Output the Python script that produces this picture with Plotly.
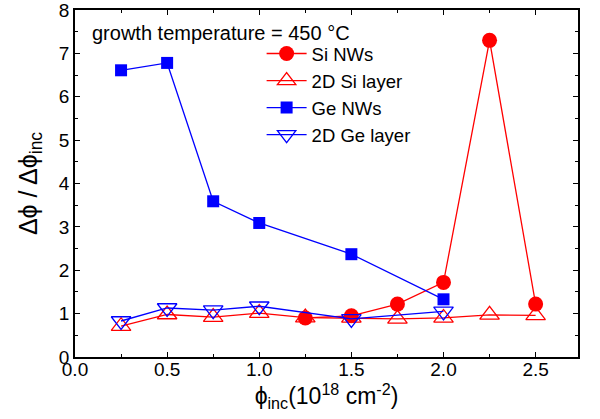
import plotly.graph_objects as go

# fluence values (10^18 cm^-2)
x_si_nw = [1.25, 1.5, 1.75, 2.0, 2.25, 2.5]
y_si_nw = [0.9, 0.95, 1.22, 1.72, 7.3, 1.22]

x_si_2d = [0.25, 0.5, 0.75, 1.0, 1.25, 1.5, 1.75, 2.0, 2.25, 2.5]
y_si_2d = [0.71, 0.98, 0.92, 1.01, 0.91, 0.9, 0.88, 0.9, 0.97, 0.96]

x_ge_nw = [0.25, 0.5, 0.75, 1.0, 1.5, 2.0]
y_ge_nw = [6.61, 6.78, 3.59, 3.09, 2.37, 1.33]

x_ge_2d = [0.25, 0.5, 0.75, 1.0, 1.5, 2.0]
y_ge_2d = [0.83, 1.13, 1.08, 1.17, 0.88, 1.05]

RED = "#ff0000"
BLUE = "#0000ff"
FONT = "Liberation Sans, Arial"

fig = go.Figure()

fig.add_trace(go.Scatter(
    x=x_si_nw, y=y_si_nw, name="Si NWs", mode="lines+markers",
    line=dict(color=RED, width=1.3),
    marker=dict(symbol="circle", size=15, color=RED),
))
fig.add_trace(go.Scatter(
    x=x_si_2d, y=y_si_2d, name="2D Si layer", mode="lines+markers",
    line=dict(color=RED, width=1.3),
    marker=dict(symbol="triangle-up-open", size=17, color=RED, line=dict(width=1.3)),
))
fig.add_trace(go.Scatter(
    x=x_ge_nw, y=y_ge_nw, name="Ge NWs", mode="lines+markers",
    line=dict(color=BLUE, width=1.3),
    marker=dict(symbol="square", size=12, color=BLUE),
))
fig.add_trace(go.Scatter(
    x=x_ge_2d, y=y_ge_2d, name="2D Ge layer", mode="lines+markers",
    line=dict(color=BLUE, width=1.3),
    marker=dict(symbol="triangle-down-open", size=17, color=BLUE, line=dict(width=1.3)),
))

axis_common = dict(
    showline=True, linecolor="black", linewidth=1.5, mirror="ticks",
    ticks="inside", ticklen=5, tickcolor="black", tickwidth=1,
    showgrid=False, zeroline=False, automargin=False,
    ticklabeloverflow="allow",
    tickfont=dict(family=FONT, size=19, color="black"),
)

fig.update_xaxes(
    range=[0, 2.73], dtick=0.5, tick0=0, tickformat=".1f",
    ticklabelstandoff=-6,
    minor=dict(ticks="inside", ticklen=3, dtick=0.25, tickcolor="black"),
    title=dict(text="ϕ<sub>inc</sub>(10<sup>18</sup> cm<sup>-2</sup>)",
               font=dict(family=FONT, size=23, color="black"),
               standoff=0),
    **axis_common,
)
fig.update_yaxes(
    range=[0, 8], dtick=1, tick0=0,
    minor=dict(ticks="inside", ticklen=3, dtick=0.5, tickcolor="black"),
    title=dict(text="Δϕ / Δϕ<sub>inc</sub>",
               font=dict(family=FONT, size=25, color="black"),
               standoff=14),
    **axis_common,
)

fig.add_annotation(
    x=0.03, y=0.934, xref="paper", yref="paper", xanchor="left", yanchor="middle",
    text="growth temperature = 450 °C", showarrow=False,
    font=dict(family=FONT, size=20, color="black"),
)

fig.update_layout(
    width=600, height=419,
    margin=dict(l=75, r=22, t=10, b=62),
    paper_bgcolor="white", plot_bgcolor="white",
    showlegend=True,
    legend=dict(
        x=0.371, y=0.928, xanchor="left", yanchor="top",
        bgcolor="rgba(0,0,0,0)", tracegroupgap=0, itemwidth=40,
        font=dict(family=FONT, size=18.5, color="black"),
    ),
)

# drop the default page margin so the figure sits at the window's corner
fig.write_html("out.html", config={"displayModeBar": False},
               post_script="document.body.style.margin='0';")
